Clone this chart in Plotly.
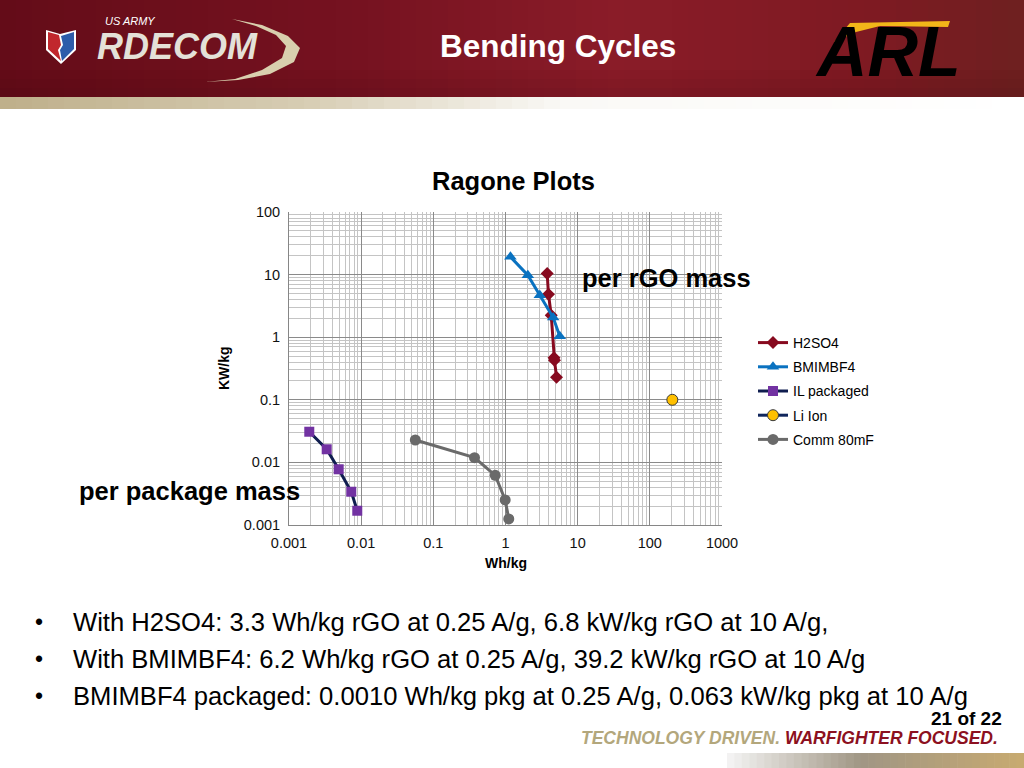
import plotly.graph_objects as go

# ---------------- data ----------------
h2so4_wh = [3.78, 3.94, 4.3, 4.7, 4.77, 5.09]
h2so4_kw = [10.4, 4.86, 2.25, 0.47, 0.43, 0.23]

bmim_wh = [1.17, 2.04, 2.99, 4.58, 5.65]
bmim_kw = [19.2, 9.8, 4.69, 2.06, 1.04]

il_wh = [0.00191, 0.00333, 0.00488, 0.00729, 0.00883]
il_kw = [0.0309, 0.0162, 0.00776, 0.0034, 0.00169]

li_wh = [205]
li_kw = [0.1]

comm_wh = [0.0563, 0.372, 0.72, 0.99, 1.11]
comm_kw = [0.0228, 0.0119, 0.00622, 0.00251, 0.00125]

x_tickvals = [0.001, 0.01, 0.1, 1, 10, 100, 1000]
x_ticktext = ["0.001", "0.01", "0.1", "1", "10", "100", "1000"]
y_tickvals = [0.001, 0.01, 0.1, 1, 10, 100]
y_ticktext = ["0.001", "0.01", "0.1", "1", "10", "100"]

bullets = [
    "With H2SO4: 3.3 Wh/kg rGO at 0.25 A/g, 6.8 kW/kg rGO at 10 A/g,",
    "With BMIMBF4: 6.2 Wh/kg rGO at 0.25 A/g, 39.2 kW/kg rGO at 10 A/g",
    "BMIMBF4 packaged: 0.0010 Wh/kg pkg at 0.25 A/g, 0.063 kW/kg pkg at 10 A/g",
]

# ---------------- geometry helpers ----------------
W, H = 1024, 768
L, R, T, B = 289, 722, 212, 525
FONT = "Arial, Liberation Sans, Helvetica, sans-serif"


def px(x):
    return (x - L) / (R - L)


def py(y):
    return (B - y) / (B - T)


def rect(x0, y0, x1, y1, color, layer="below"):
    return dict(type="rect", xref="paper", yref="paper",
                x0=px(x0), x1=px(x1), y0=py(y1), y1=py(y0),
                fillcolor=color, line=dict(width=0), layer=layer)


def path(points, color, line_color=None, line_width=0):
    d = "M " + " L ".join(f"{px(a):.5f},{py(b):.5f}" for a, b in points) + " Z"
    return dict(type="path", xref="paper", yref="paper", path=d,
                fillcolor=color,
                line=dict(width=line_width, color=line_color or color),
                layer="above")


def lerp(c1, c2, t):
    return tuple(int(round(a + (b - a) * t)) for a, b in zip(c1, c2))


def grad(stops, t):
    for i in range(len(stops) - 1):
        t0, c0 = stops[i]
        t1, c1 = stops[i + 1]
        if t0 <= t <= t1:
            return lerp(c0, c1, (t - t0) / (t1 - t0) if t1 > t0 else 0)
    return stops[-1][1]


def rgb(c):
    return f"rgb({c[0]},{c[1]},{c[2]})"


shapes = []

# header red banner (horizontal gradient)
hdr_stops = [(0.0, (100, 12, 24)), (0.35, (118, 18, 32)), (0.6, (138, 28, 40)),
             (0.85, (126, 26, 34)), (1.0, (110, 32, 32))]
n = 64
for i in range(n):
    x0 = i * W / n
    x1 = (i + 1) * W / n + 0.6
    shapes.append(rect(x0, 0, x1, 97, rgb(grad(hdr_stops, (i + 0.5) / n))))
# darker bottom band of header
for j, a in enumerate([0.04, 0.08, 0.12]):
    shapes.append(rect(0, 70 + j * 9, W, 79 + j * 9, f"rgba(40,0,5,{a})"))

# gold strip under header fading to white
gold_stops = [(0.0, (190, 175, 138)), (0.3, (215, 205, 180)), (0.55, (250, 249, 246)), (1.0, (255, 255, 255))]
for i in range(n):
    x0 = i * W / n
    x1 = (i + 1) * W / n + 0.6
    shapes.append(rect(x0, 97, x1, 109, rgb(grad(gold_stops, (i + 0.5) / n))))

# footer strip
foot_stops = [(0.0, (245, 245, 245)), (0.45, (160, 150, 132)), (1.0, (200, 170, 112))]
fx0, fx1 = 727, W
m = 40
for i in range(m):
    x0 = fx0 + i * (fx1 - fx0) / m
    x1 = fx0 + (i + 1) * (fx1 - fx0) / m + 0.6
    shapes.append(rect(x0, 753, x1, H, rgb(grad(foot_stops, (i + 0.5) / m))))

# RDECOM shield
shapes.append(path([(46, 30), (60, 34), (76, 30), (76, 50), (61, 64), (46, 50)], "white"))
shapes.append(path([(48, 32), (59, 35), (61, 45), (58, 50), (61, 61), (48, 49)], "#c1272d"))
shapes.append(path([(61, 36), (74, 32), (74, 49), (62, 61), (60, 50), (63, 45)], "#2d5caa"))
# RDECOM swoosh (crescent)
sw_outer = [(232, 19), (262, 25), (288, 36), (300, 48), (294, 62), (270, 74), (238, 80), (205, 82)]
sw_inner = [(235, 79), (262, 70), (282, 58), (286, 46), (276, 35), (256, 26)]
shapes.append(path(sw_outer + sw_inner, "#d9cfae"))

# ARL yellow swoosh
shapes.append(path([(834, 42), (850, 23), (950, 21), (948, 27), (880, 26), (856, 32)], "#f2b619"))

# ---------------- figure ----------------
fig = go.Figure()

fig.add_trace(go.Scatter(
    x=h2so4_wh, y=h2so4_kw, name="H2SO4", legendgroup="a", mode="lines+markers",
    line=dict(color="#870a1f", width=3),
    marker=dict(symbol="diamond", size=10, color="#870a1f")))
fig.add_trace(go.Scatter(
    x=bmim_wh, y=bmim_kw, name="BMIMBF4", legendgroup="b", mode="lines+markers",
    line=dict(color="#0a72c0", width=3),
    marker=dict(symbol="triangle-up", size=11, color="#0a72c0")))
fig.add_trace(go.Scatter(
    x=il_wh, y=il_kw, name="IL packaged", legendgroup="c", mode="lines+markers",
    line=dict(color="#0f1d4f", width=3),
    marker=dict(symbol="square", size=10, color="#7232a2")))
fig.add_trace(go.Scatter(
    x=li_wh, y=li_kw, name="Li Ion", legendgroup="d", mode="lines+markers",
    line=dict(color="#10265c", width=3),
    marker=dict(symbol="circle", size=11, color="#ffc000",
                line=dict(color="#3a3a3a", width=1))))
fig.add_trace(go.Scatter(
    x=comm_wh, y=comm_kw, name="Comm 80mF", legendgroup="e", mode="lines+markers",
    line=dict(color="#6a6a6a", width=3),
    marker=dict(symbol="circle", size=11, color="#6a6a6a")))

annotations = []


def ann(text, x, y, size, color="black", bold=False, italic=False, xanchor="center",
        yanchor="middle", textangle=0):
    t = text
    if bold:
        t = f"<b>{t}</b>"
    if italic:
        t = f"<i>{t}</i>"
    annotations.append(dict(text=t, x=px(x), y=py(y), xref="paper", yref="paper",
                            showarrow=False, xanchor=xanchor, yanchor=yanchor,
                            textangle=textangle,
                            font=dict(family=FONT, size=size, color=color)))


# header texts
ann("Bending Cycles", 558, 46, 31.5, color="white", bold=True)
ann("US ARMY", 103, 21, 11, color="white", italic=True, xanchor="left")
ann("RDECOM", 95, 46, 36, color="#e4e1d8", bold=True, italic=True, xanchor="left")
ann("ARL", 888, 52, 70, color="black", bold=True, italic=True)

# chart texts
ann("Ragone Plots", 513, 181, 25.5, bold=True)
ann("Wh/kg", 506, 563, 14, bold=True)
ann("KW/kg", 224, 368, 14, bold=True, textangle=-90)
ann("per rGO mass", 666, 278, 25.5, bold=True)
ann("per package mass", 189, 491, 25.5, bold=True)

# bullets
for i, b in enumerate(bullets):
    yy = 622 + i * 37
    ann("•", 33, yy, 23, xanchor="left")
    ann(b, 71, yy, 25.6, xanchor="left")

# footer
ann("21 of 22", 1004, 718, 19, bold=True, xanchor="right")
ann("<span style='color:#b3a77c'>TECHNOLOGY DRIVEN.</span> "
    "<span style='color:#8c1020'>WARFIGHTER FOCUSED.</span>",
    1000, 738, 17.5, bold=True, italic=True, xanchor="right")

axis_common = dict(
    type="log",
    showline=True, linecolor="#868686", linewidth=1,
    showgrid=True, gridcolor="#8a8a8a", gridwidth=1,
    ticks="", tickmode="array",
    tickfont=dict(family=FONT, size=14.5, color="#111111"),
    minor=dict(showgrid=True, gridcolor="#c4c4c4", gridwidth=1, dtick="D1", ticks=""),
    zeroline=False,
)

fig.update_layout(
    width=W, height=H,
    margin=dict(l=L, r=W - R, t=T, b=H - B, pad=0),
    paper_bgcolor="white", plot_bgcolor="white",
    font=dict(family=FONT, color="black"),
    showlegend=True,
    legend=dict(x=px(753), y=py(327), xanchor="left", yanchor="top",
                font=dict(family=FONT, size=14, color="black"),
                tracegroupgap=3, bgcolor="rgba(0,0,0,0)", itemwidth=30),
    xaxis=dict(axis_common, range=[-3, 3], tickvals=x_tickvals, ticktext=x_ticktext,
               ticklabelstandoff=5),
    yaxis=dict(axis_common, range=[-3, 2], tickvals=y_tickvals, ticktext=y_ticktext,
               ticklabelstandoff=5),
    shapes=shapes,
    annotations=annotations,
)

fig.write_html("out.html", config={"displayModeBar": False},
               post_script="document.body.style.margin='0';document.body.style.overflow='hidden';")
